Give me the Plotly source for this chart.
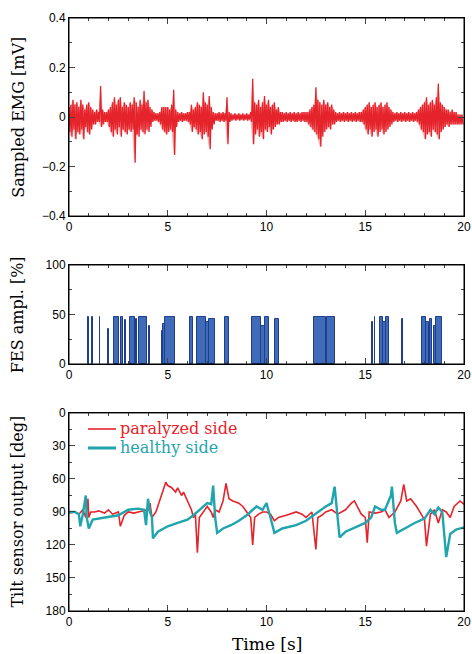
import plotly.graph_objects as go

# ---------------- data ----------------
# EMG: envelope per 0.1 s bin (upper / lower extreme), mV
emg_bin = 0.1
emg_hi = [
    0.04, 0.05, 0.07, 0.05, 0.06, 0.04, 0.07, 0.05, 0.03, 0.05,
    0.06, 0.04, 0.03, 0.02, 0.03, 0.02, 0.125, 0.03, 0.02, 0.02,
    0.03, 0.04, 0.06, 0.08, 0.05, 0.07, 0.08, 0.04, 0.06, 0.05,
    0.04, 0.06, 0.05, 0.08, 0.06, 0.04, 0.07, 0.05, 0.105, 0.06,
    0.07, 0.04, 0.03, 0.02, 0.015, 0.015, 0.02, 0.04, 0.04, 0.04,
    0.04, 0.03, 0.05, 0.11, 0.03, 0.02, 0.015, 0.02, 0.015, 0.015,
    0.02, 0.02, 0.05, 0.03, 0.04, 0.06, 0.05, 0.04, 0.10, 0.06,
    0.05, 0.085, 0.04, 0.02, 0.015, 0.015, 0.02, 0.015, 0.02, 0.015,
    0.08, 0.02, 0.015, 0.01, 0.015, 0.01, 0.015, 0.01, 0.015, 0.01,
    0.015, 0.01, 0.02, 0.155, 0.06, 0.05, 0.07, 0.04, 0.06, 0.085,
    0.05, 0.07, 0.04, 0.05, 0.06, 0.03, 0.04, 0.02, 0.02, 0.015,
    0.02, 0.015, 0.02, 0.015, 0.02, 0.015, 0.02, 0.015, 0.02, 0.02,
    0.02, 0.02, 0.03, 0.04, 0.05, 0.12, 0.07, 0.06, 0.05, 0.07,
    0.05, 0.06, 0.04, 0.05, 0.03, 0.02, 0.015, 0.02, 0.015, 0.02,
    0.015, 0.02, 0.015, 0.02, 0.015, 0.02, 0.015, 0.02, 0.02, 0.03,
    0.04, 0.05, 0.06, 0.04, 0.05, 0.06, 0.04, 0.05, 0.06, 0.04,
    0.05, 0.06, 0.04, 0.03, 0.02, 0.015, 0.02, 0.015, 0.02, 0.015,
    0.02, 0.015, 0.02, 0.015, 0.02, 0.015, 0.02, 0.03, 0.04, 0.05,
    0.06, 0.08, 0.05, 0.06, 0.07, 0.05, 0.08, 0.135, 0.06, 0.05,
    0.04, 0.03, 0.03, 0.02, 0.03, 0.02, 0.02, 0.01, 0.01, 0.01,
]
emg_lo = [
    -0.06, -0.08, -0.05, -0.09, -0.06, -0.07, -0.05, -0.09, -0.04, -0.06,
    -0.07, -0.05, -0.03, -0.03, -0.02, -0.02, -0.04, -0.03, -0.02, -0.02,
    -0.04, -0.06, -0.08, -0.05, -0.07, -0.04, -0.08, -0.05, -0.06, -0.07,
    -0.05, -0.06, -0.05, -0.185, -0.07, -0.08, -0.05, -0.06, -0.07, -0.05,
    -0.06, -0.04, -0.02, -0.015, -0.015, -0.02, -0.03, -0.05, -0.06, -0.07,
    -0.06, -0.05, -0.06, -0.153, -0.04, -0.02, -0.015, -0.02, -0.015, -0.015,
    -0.02, -0.03, -0.06, -0.04, -0.05, -0.07, -0.06, -0.09, -0.07, -0.06,
    -0.08, -0.13, -0.05, -0.03, -0.015, -0.015, -0.02, -0.015, -0.02, -0.015,
    -0.11, -0.02, -0.015, -0.01, -0.015, -0.01, -0.015, -0.01, -0.015, -0.01,
    -0.015, -0.01, -0.02, -0.11, -0.07, -0.05, -0.08, -0.06, -0.09, -0.05,
    -0.06, -0.04, -0.07, -0.05, -0.04, -0.03, -0.03, -0.02, -0.02, -0.015,
    -0.02, -0.015, -0.02, -0.015, -0.02, -0.02, -0.015, -0.02, -0.015, -0.02,
    -0.02, -0.03, -0.04, -0.05, -0.06, -0.07, -0.09, -0.12, -0.08, -0.06,
    -0.05, -0.04, -0.05, -0.03, -0.03, -0.02, -0.015, -0.02, -0.015, -0.02,
    -0.015, -0.02, -0.015, -0.02, -0.015, -0.02, -0.015, -0.02, -0.02, -0.03,
    -0.05, -0.07, -0.05, -0.08, -0.06, -0.05, -0.08, -0.06, -0.05, -0.07,
    -0.06, -0.05, -0.04, -0.03, -0.02, -0.015, -0.02, -0.015, -0.02, -0.015,
    -0.02, -0.015, -0.02, -0.015, -0.02, -0.015, -0.02, -0.03, -0.05, -0.06,
    -0.09, -0.07, -0.06, -0.08, -0.05, -0.06, -0.07, -0.09, -0.06, -0.05,
    -0.04, -0.03, -0.04, -0.03, -0.03, -0.03, -0.03, -0.03, -0.03, -0.03,
]

# FES stimulation blocks: start [s], end [s], amplitude [%]
fes_start = [0.97, 1.17, 1.55, 1.97, 2.28, 2.62, 2.86, 3.11, 3.40, 3.54, 4.07,
             4.72, 4.78, 4.85, 6.15, 6.47, 6.95, 7.10, 7.92, 9.25, 9.70, 9.90,
             10.44, 12.40, 13.00, 13.05, 15.34, 15.47, 15.76, 15.90, 16.05, 16.86,
             17.88, 18.10, 18.30, 18.47, 18.60]
fes_end   = [1.01, 1.21, 1.59, 2.01, 2.52, 2.72, 2.90, 3.34, 3.44, 3.93, 4.11,
             4.78, 4.85, 5.35, 6.28, 6.95, 7.10, 7.37, 8.10, 9.70, 9.90, 10.15,
             10.62, 13.00, 13.05, 13.45, 15.38, 15.51, 15.90, 16.05, 16.21, 16.90,
             18.10, 18.25, 18.40, 18.60, 18.88]
fes_amp   = [48, 47, 48, 35, 48, 48, 44, 48, 45, 48, 38,
             33, 40, 47, 48, 47, 42, 45, 48, 48, 38, 47,
             45, 48, 35, 47, 42, 48, 48, 42, 47, 45,
             47, 42, 45, 38, 47]

# Tilt sensor output [deg]
par_t = [0, 0.3, 0.5, 0.7, 0.85, 0.96, 1.0, 1.1, 1.3, 1.5, 1.8, 2.0, 2.2, 2.5, 2.6,
         2.8, 3.0, 3.3, 3.5, 3.8, 4.0, 4.1, 4.2, 4.4, 4.6, 4.8, 4.9, 5.0, 5.2,
         5.4, 5.5, 5.7, 5.8, 6.0, 6.2, 6.3, 6.4, 6.5, 6.6, 6.8, 7.0, 7.2, 7.3,
         7.4, 7.6, 7.8, 7.95, 8.1, 8.3, 8.6, 8.8, 9.0, 9.2, 9.3, 9.4, 9.6, 9.8,
         10.0, 10.2, 10.4, 10.6, 11.0, 11.3, 11.5, 11.8, 12.0, 12.3, 12.5, 12.6,
         12.8, 13.0, 13.3, 13.6, 14.0, 14.3, 14.45, 14.8, 15.0, 15.1, 15.2, 15.5,
         15.8, 16.0, 16.2, 16.5, 16.8, 16.95, 17.1, 17.3, 17.6, 18.0, 18.1, 18.3,
         18.5, 18.7, 18.9, 19.1, 19.3, 19.5, 19.8, 20.0]
par_v = [91, 90, 92, 88, 95, 78, 95, 90, 90, 89, 91, 88, 92, 90, 103,
         93, 90, 91, 90, 89, 88, 82, 95, 90, 80, 68, 63, 66, 68,
         72, 68, 75, 72, 80, 88, 95, 92, 127, 95, 90, 85, 90, 95,
         88, 90, 80, 64, 78, 80, 82, 85, 90, 95, 120, 95, 92, 90,
         90, 92, 98, 95, 93, 91, 90, 92, 95, 90, 124, 95,
         93, 90, 88, 92, 88, 82, 80, 92, 95, 118, 90, 91,
         90, 88, 95, 90, 80, 65, 80, 78, 85, 97, 121, 92,
         88, 100, 88, 90, 95, 85, 80, 83]

hea_t = [0, 0.3, 0.5, 0.57, 0.7, 0.85, 0.9, 1.0, 1.2, 1.5, 2.0, 2.5, 3.0, 3.5, 3.8,
         3.9, 4.0, 4.1, 4.2, 4.25, 4.5, 5.0, 5.5, 6.0, 6.3, 6.6, 7.0, 7.2, 7.3,
         7.4, 7.5, 7.8, 8.2, 8.6, 9.0, 9.3, 9.5, 9.8, 10.0, 10.2, 10.4, 10.8,
         11.5, 12.0, 12.3, 12.8, 13.0, 13.3, 13.45, 13.6, 13.7, 14.0, 14.5, 15.0,
         15.3, 15.5, 15.8, 16.0, 16.3, 16.35, 16.5, 16.6, 17.0, 17.5, 18.0, 18.3,
         18.5, 18.7, 18.9, 19.0, 19.1, 19.3, 19.6, 20.0]
hea_v = [90, 90, 92, 103, 92, 75, 95, 105, 97, 96, 95, 93, 88, 87, 88,
         102, 78, 90, 95, 114, 108, 103, 100, 97, 93, 88, 82, 83, 66,
         95, 109, 105, 102, 98, 93, 88, 85, 88, 82, 95, 109, 105,
         102, 98, 94, 88, 85, 82, 67, 95, 113, 108, 104, 100,
         95, 85, 88, 88, 75, 67, 100, 109, 105, 100, 96, 88,
         92, 86, 90, 115, 131, 110, 106, 104]

x_ticks = [0, 5, 10, 15, 20]

# ---------------- figure ----------------
RED = "#e5232b"
LTRED = "rgba(240,110,110,0.55)"
TEAL = "#1fa5ad"
BLUE = "#3f6bb8"
DKBLUE = "#1d3f8e"

fig = go.Figure()

emg_t = [i * emg_bin for i in range(len(emg_hi))]
# light band between envelopes
fig.add_trace(go.Scatter(x=emg_t, y=emg_lo, mode="lines", line=dict(color=LTRED, width=0),
                         xaxis="x", yaxis="y", showlegend=False, hoverinfo="skip"))
fig.add_trace(go.Scatter(x=emg_t, y=emg_hi, mode="lines", line=dict(color=LTRED, width=0),
                         fill="tonexty", fillcolor=LTRED,
                         xaxis="x", yaxis="y", showlegend=False, hoverinfo="skip"))
# EMG zigzag between bin extremes
ex, ey = [], []
for t0, h, l in zip(emg_t, emg_hi, emg_lo):
    ex += [t0, t0 + emg_bin / 2]
    ey += [h, l]
fig.add_trace(go.Scatter(x=ex, y=ey, mode="lines", line=dict(color=RED, width=1.3),
                         xaxis="x", yaxis="y", showlegend=False, hoverinfo="skip"))

# FES bars
fig.add_trace(go.Bar(
    x=[(s + e) / 2 for s, e in zip(fes_start, fes_end)],
    y=fes_amp,
    width=[e - s for s, e in zip(fes_start, fes_end)],
    marker=dict(color=BLUE, line=dict(color=DKBLUE, width=1)),
    xaxis="x2", yaxis="y2", showlegend=False))

# Tilt
fig.add_trace(go.Scatter(x=par_t, y=par_v, mode="lines",
                         line=dict(color=RED, width=1.6),
                         xaxis="x3", yaxis="y3", showlegend=False))
fig.add_trace(go.Scatter(x=hea_t, y=hea_v, mode="lines",
                         line=dict(color=TEAL, width=2.4),
                         xaxis="x3", yaxis="y3", showlegend=False))

tickfont = dict(family="Liberation Sans, Arial, sans-serif", size=12, color="black")

def xax(anchor):
    return dict(range=[0, 20], tickvals=x_ticks, ticks="inside", ticklen=6,
                showline=True, linecolor="black", linewidth=1, mirror="allticks",
                showgrid=False, zeroline=False, tickfont=tickfont, anchor=anchor,
                automargin=False,
                minor=dict(ticks="inside", ticklen=3, dtick=1, tick0=0, showgrid=False),
                domain=[0, 1])

def yax(rng, tv, mdt, dom, anchor):
    return dict(range=rng, tickvals=tv, ticks="inside", ticklen=6,
                showline=True, linecolor="black", linewidth=1, mirror="allticks",
                showgrid=False, zeroline=False, tickfont=tickfont, domain=dom,
                anchor=anchor, automargin=False,
                minor=dict(ticks="inside", ticklen=3, dtick=mdt, tick0=0, showgrid=False))

fig.update_layout(
    width=472, height=654,
    margin=dict(l=69, r=8, t=18, b=43, autoexpand=False),
    paper_bgcolor="white", plot_bgcolor="white",
    xaxis=xax("y"),
    yaxis=yax([-0.4, 0.4], [-0.4, -0.2, 0, 0.2, 0.4], 0.1, [0.666, 1.0], "x"),
    xaxis2=xax("y2"),
    yaxis2=yax([0, 100], [0, 50, 100], 25, [0.4165, 0.5835], "x2"),
    xaxis3=xax("y3"),
    yaxis3=yax([180, 0], [0, 30, 60, 90, 120, 150, 180], 15, [0.0, 0.334], "x3"),
    bargap=0,
    showlegend=False,
)

# panel frames
for xa, ya in [("x", "y"), ("x2", "y2"), ("x3", "y3")]:
    fig.add_shape(type="rect", xref=f"{xa} domain", yref=f"{ya} domain",
                  x0=0, x1=1, y0=0, y1=1, line=dict(color="black", width=1),
                  fillcolor="rgba(0,0,0,0)", layer="above")

serif = "DejaVu Serif, serif"
# legend (line samples + coloured labels)
for yk, col, w, lab in [(0.919, RED, 1.6, "paralyzed side"), (0.823, TEAL, 3, "healthy side")]:
    fig.add_shape(type="line", xref="x3 domain", yref="y3 domain",
                  x0=0.048, x1=0.119, y0=yk, y1=yk, line=dict(color=col, width=w))
    fig.add_annotation(text=lab, xref="x3 domain", yref="y3 domain", x=0.124, y=yk,
                       xanchor="left", yanchor="middle", showarrow=False,
                       font=dict(family=serif, size=16, color=col))

for txt, yc in [("Sampled EMG [mV]", 0.833), ("FES ampl. [%]", 0.5), ("Tilt sensor output [deg]", 0.167)]:
    fig.add_annotation(text=txt, xref="paper", yref="paper", x=-0.13, y=yc,
                       textangle=-90, showarrow=False, xanchor="center", yanchor="middle",
                       font=dict(family=serif, size=16, color="black"))
fig.add_annotation(text="Time [s]", xref="paper", yref="paper", x=0.5, y=-0.056,
                   showarrow=False, xanchor="center", yanchor="middle",
                   font=dict(family=serif, size=17, color="black"))

fig.write_html("out.html", config={"displayModeBar": False},
               post_script="document.body.style.margin='0';document.body.style.overflow='hidden';")
